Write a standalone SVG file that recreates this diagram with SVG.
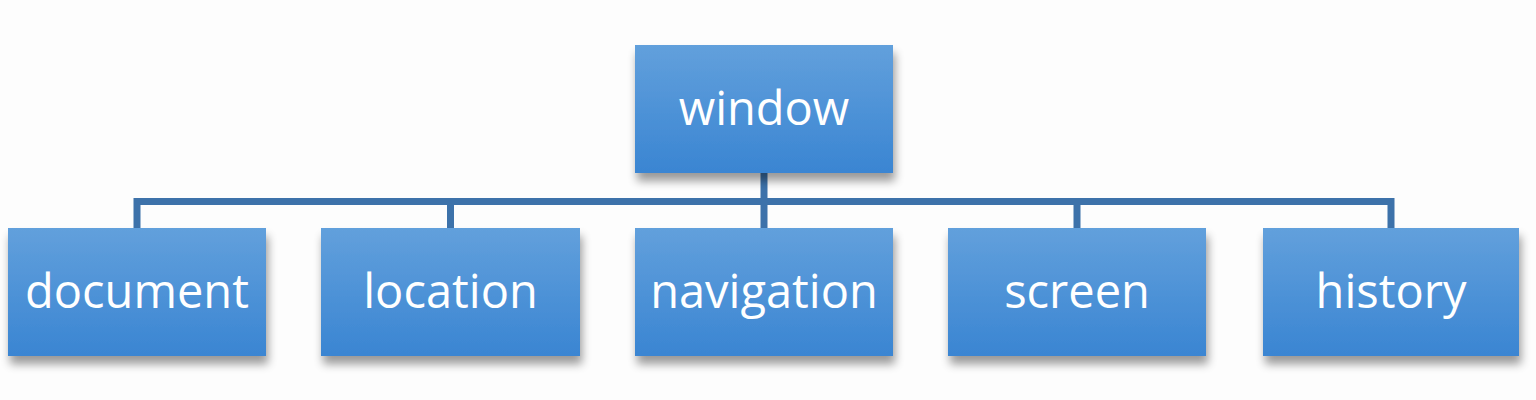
<svg xmlns="http://www.w3.org/2000/svg" width="1536" height="400" viewBox="0 0 1536 400">
<defs>
<linearGradient id="g" x1="0" y1="0" x2="0" y2="1">
<stop offset="0" stop-color="#62a0dc"/>
<stop offset="1" stop-color="#3a85d2"/>
</linearGradient>
<filter id="sh" x="-10%" y="-10%" width="125%" height="140%">
<feGaussianBlur in="SourceAlpha" stdDeviation="5"/>
<feOffset dx="2" dy="8" result="b"/>
<feComponentTransfer><feFuncA type="linear" slope="0.4"/></feComponentTransfer>
<feMerge><feMergeNode/><feMergeNode in="SourceGraphic"/></feMerge>
</filter>
<style>
.box{fill:url(#g);filter:url(#sh);}
.lbl{font-family:"Open Sans","Noto Sans",sans-serif;font-size:47px;fill:#ffffff;text-anchor:middle;}
.con{fill:none;stroke:#3d72aa;stroke-width:7;}
</style>
</defs>
<rect width="1536" height="400" fill="#fdfdfd"/>
<g id="connectors">
<path class="con" d="M764 173 V228 M137 228 V201.5 H1391 V228 M450.5 201.5 V228 M1077 201.5 V228"/>
</g>
<g id="window"><rect class="box" x="635" y="45" width="258" height="128"/><text class="lbl" x="764" y="125">window</text></g>
<g id="document"><rect class="box" x="8" y="228" width="258" height="128"/><text class="lbl" x="137" y="308">document</text></g>
<g id="location"><rect class="box" x="321" y="228" width="259" height="128"/><text class="lbl" x="450.5" y="308">location</text></g>
<g id="navigation"><rect class="box" x="635" y="228" width="258" height="128"/><text class="lbl" x="764" y="308">navigation</text></g>
<g id="screen"><rect class="box" x="948" y="228" width="258" height="128"/><text class="lbl" x="1077" y="308">screen</text></g>
<g id="history"><rect class="box" x="1263" y="228" width="256" height="128"/><text class="lbl" x="1391" y="308">history</text></g>
</svg>
